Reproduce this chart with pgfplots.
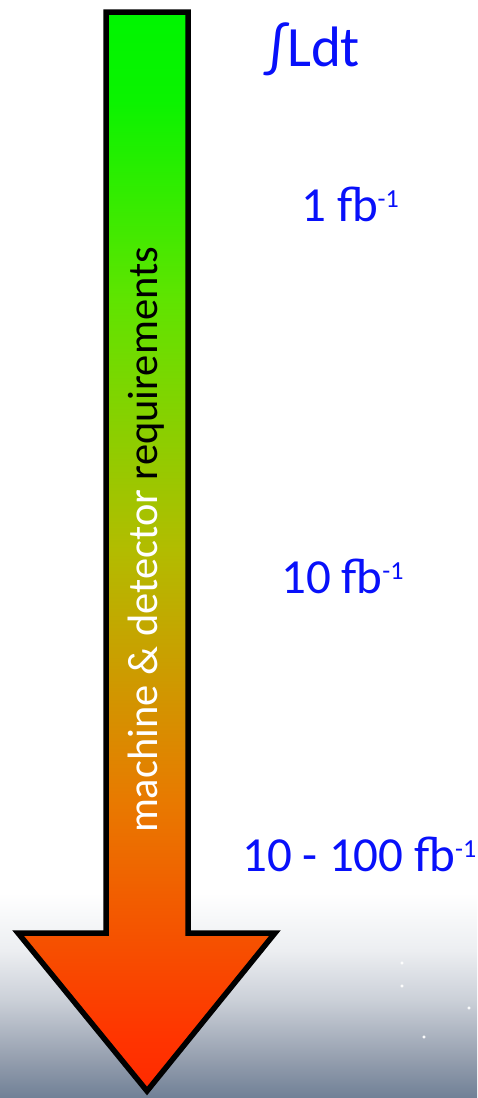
\documentclass[border=0pt]{standalone}
\usepackage{pgfplots}
\pgfplotsset{compat=1.18}
\usepackage{fontspec}
\setmainfont{Carlito}
\definecolor{cA}{RGB}{255,42,0}
\definecolor{cB}{RGB}{255,52,0}
\definecolor{cC}{RGB}{232,122,0}
\definecolor{cD}{RGB}{178,188,0}
\definecolor{cE}{RGB}{95,228,0}
\definecolor{cF}{RGB}{10,243,0}
\definecolor{cG}{RGB}{0,245,0}
\pgfdeclareverticalshading{arrowgrad}{100bp}{color(0bp)=(cA); color(25bp)=(cA); color(27.4bp)=(cB); color(38.5bp)=(cC); color(50.1bp)=(cD); color(61.7bp)=(cE); color(71bp)=(cF); color(75bp)=(cG); color(100bp)=(cG)}
\definecolor{bA}{RGB}{112,128,150}
\definecolor{bB}{RGB}{148,158,174}
\definecolor{bC}{RGB}{203,208,216}
\definecolor{bD}{RGB}{236,238,241}
\pgfdeclareverticalshading{bggrad}{100bp}{color(0bp)=(bA); color(25bp)=(bA); color(33bp)=(bB); color(45.6bp)=(bC); color(56bp)=(bD); color(68bp)=(white); color(100bp)=(white)}
\definecolor{txtblue}{RGB}{8,16,250}
\newcommand{\fbm}{fb\raisebox{14pt}{\fontsize{26}{28}\selectfont -1}}
\begin{document}
\begin{tikzpicture}
\begin{axis}[
  width=477pt, height=1098pt, scale only axis,
  xmin=0, xmax=477, ymin=0, ymax=1098, y dir=reverse,
  axis lines=none, ticks=none,
]
% page background
\addplot[fill=white, draw=none] coordinates {(0,0) (477,0) (477,1098) (0,1098)} -- cycle;
% bottom background gradient
\addplot[shading=bggrad, draw=none] coordinates {(0,860) (477,860) (477,1098) (0,1098)} -- cycle;
% stars
\addplot[only marks, mark=*, mark size=1.4pt, white, draw=none] coordinates {(402,963) (402,986) (469,1008) (424,1037)};
% arrow
\addplot[shading=arrowgrad, draw=black, line width=5.5pt, line join=miter] coordinates {
  (106,12) (188,12) (188,933) (275,933) (147,1091) (18,933) (106,933)} -- cycle;
% labels
\node[anchor=base west, inner sep=0, text=txtblue, font=\fontsize{57}{60}\selectfont] at (axis cs:266,66) {∫Ldt};
\node[anchor=base west, inner sep=0, text=txtblue, font=\fontsize{49}{52}\selectfont] at (axis cs:301,221) {1 \fbm};
\node[anchor=base west, inner sep=0, text=txtblue, font=\fontsize{49}{52}\selectfont] at (axis cs:281,593) {10 \fbm};
\node[anchor=base west, inner sep=0, text=txtblue, font=\fontsize{49}{52}\selectfont] at (axis cs:242,871) {10 - 100 \fbm};
\node[anchor=base, rotate=90, inner sep=0, font=\fontsize{42.5}{45}\selectfont] at (axis cs:157,540) {\textcolor{white}{machine \& detector} \textcolor{black}{requirements}};
\end{axis}
\end{tikzpicture}
\end{document}
